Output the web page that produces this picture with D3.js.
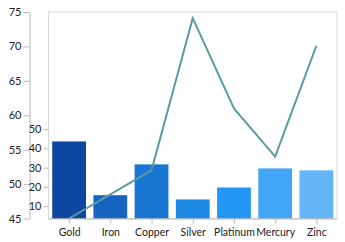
<!DOCTYPE html>
<html><head><meta charset="utf-8">
<script src="https://cdn.jsdelivr.net/npm/d3@7"></script>
<style>
html,body{margin:0;padding:0;background:#fff;}
svg{display:block;font-family:Lato,"Open Sans",sans-serif;}
</style></head>
<body><svg id="c" width="345" height="242"></svg>
<script>
const categories = ["Gold","Iron","Copper","Silver","Platinum","Mercury","Zinc"];
const barValues = [43.6, 15.7, 31.7, 13.5, 19.7, 29.6, 28.6];
const lineValues = [45, 48.5, 52, 74.1, 61, 54, 70.1];
const barColors = ["#0D47A1","#1565C0","#1976D2","#1E88E5","#2196F3","#42A5F5","#64B5F6"];
const outerTicks = [45,50,55,60,65,70,75];
const innerTicks = [10,20,30,40,50];

const svg = d3.select("#c");
const L = 48.5, R = 337, T = 12, B = 218.5;

const x = d3.scaleBand().domain(categories).range([L, R]).paddingInner(0.18).paddingOuter(0.09);
const xPoint = d3.scalePoint().domain(categories).range([L, R]).padding(0.5);
const yOuter = d3.scaleLinear().domain([45, 75]).range([B, T]);
const yInner = d3.scaleLinear().domain([3.6, 56.5]).range([B, 116.6]);

// plot border
svg.append("rect").attr("x", L).attr("y", T).attr("width", R - L).attr("height", B - T)
  .attr("fill", "none").attr("stroke", "#d9d9d9").attr("stroke-width", 1);

// bars
svg.append("g").selectAll("rect").data(categories).join("rect")
  .attr("x", d => x(d)).attr("width", x.bandwidth())
  .attr("y", (d, i) => yInner(barValues[i]))
  .attr("height", (d, i) => B - yInner(barValues[i]))
  .attr("fill", (d, i) => barColors[i]);

// line
const clipId = "clipArea";
svg.append("clipPath").attr("id", clipId).append("rect")
  .attr("x", L).attr("y", T).attr("width", R - L).attr("height", B - T + 1);
svg.append("path")
  .datum(categories.map((c, i) => [xPoint(c), yOuter(lineValues[i])]))
  .attr("d", d3.line())
  .attr("fill", "none").attr("stroke", "#5B9BA0").attr("stroke-width", 2)
  .attr("clip-path", `url(#${clipId})`);

function styleAxis(g, size) {
  g.selectAll(".domain").attr("stroke", "#b8b8b8");
  g.selectAll(".tick line").attr("stroke", "#b8b8b8");
  g.selectAll("text").attr("fill", "#222").style("font-size", size)
    .style("font-family", "Lato, 'Open Sans', sans-serif");
}

// outer axis
const gOuter = svg.append("g").attr("transform", "translate(29.5,0)")
  .call(d3.axisLeft(yOuter).tickValues(outerTicks).tickSize(6).tickSizeOuter(0).tickPadding(2));
styleAxis(gOuter, "11px");

// inner axis
const gInner = svg.append("g").attr("transform", `translate(${L},0)`)
  .call(d3.axisLeft(yInner).tickValues(innerTicks).tickSize(5).tickSizeOuter(0).tickPadding(2));
styleAxis(gInner, "11px");
gInner.select(".domain").remove();

// bottom axis
const gX = svg.append("g").attr("transform", `translate(0,${B})`)
  .call(d3.axisBottom(xPoint).tickSize(5).tickSizeOuter(0).tickPadding(5));
styleAxis(gX, "10.5px");
gX.select(".domain").attr("d", `M${L},0.5H${R}`);
</script></body></html>
